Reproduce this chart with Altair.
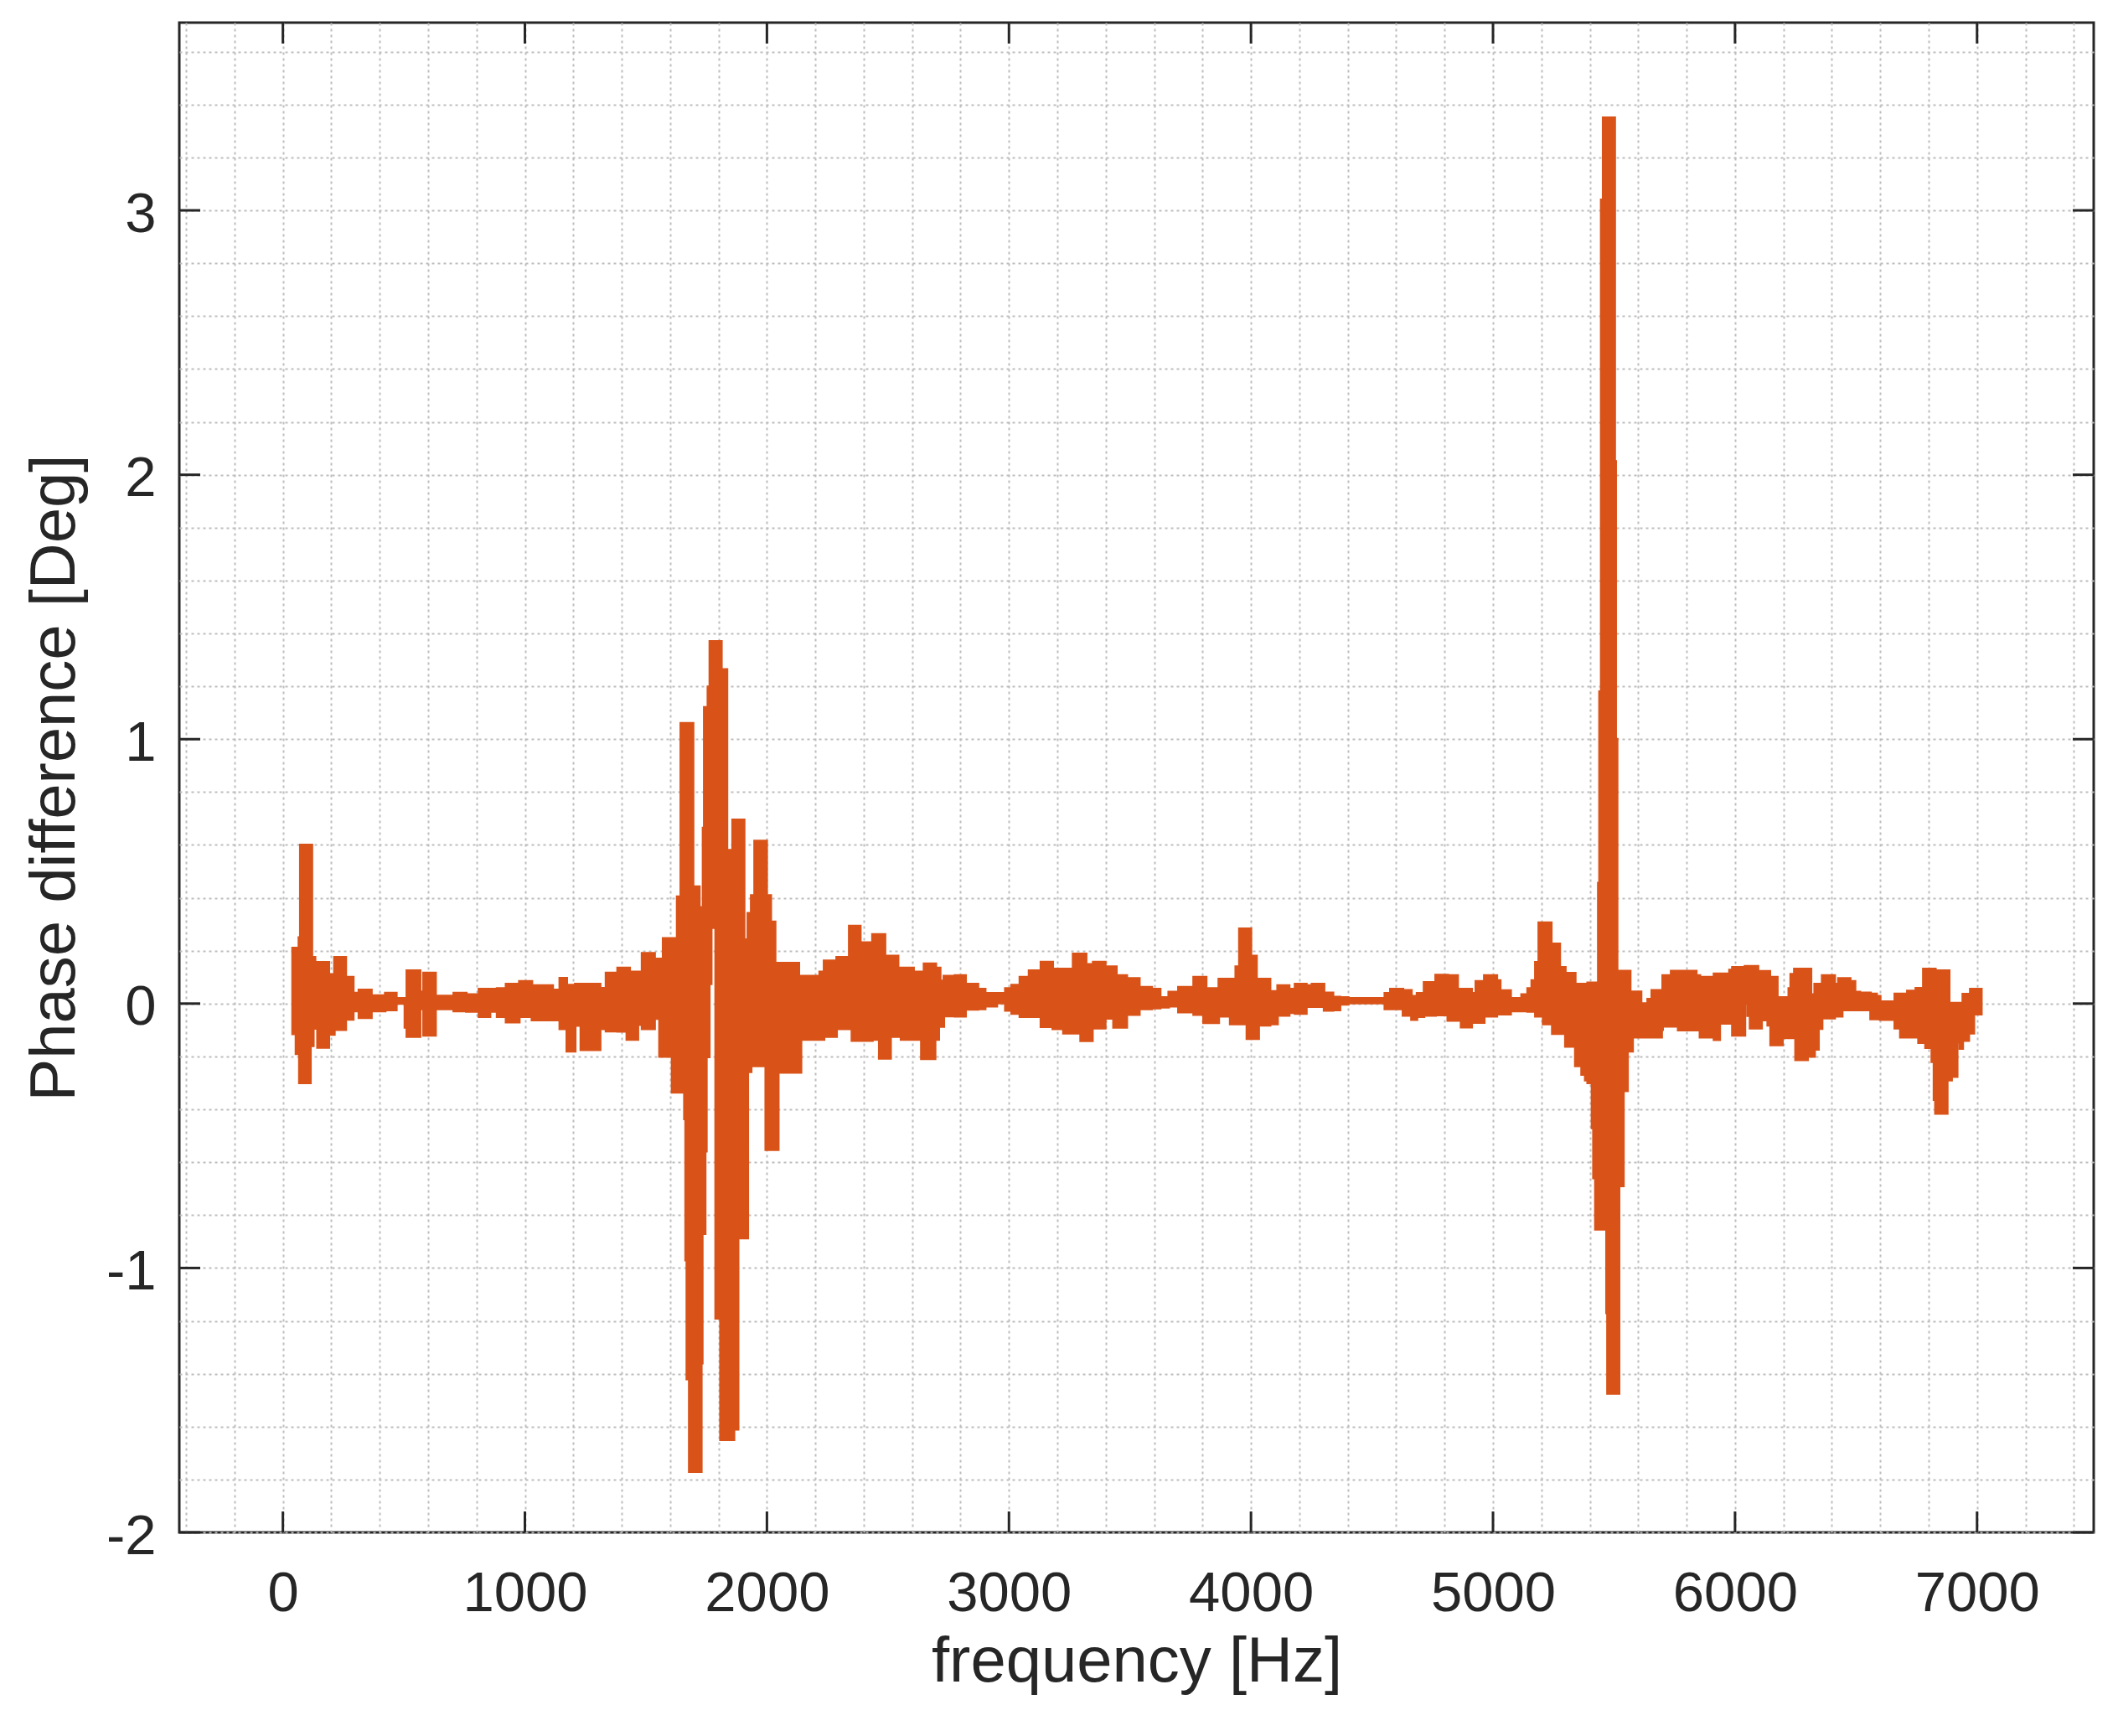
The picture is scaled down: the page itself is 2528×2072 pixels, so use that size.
import altair as alt
import pandas as pd

# ---- data (envelope of the dense phase trace) ----
freq_hz = [
    40, 54, 66, 68, 72, 114, 120, 126, 133, 143, 190, 213, 260, 291, 314, 366, 423, 469, 504, 512,
    567, 581, 631, 706, 758, 810, 856, 885, 922, 977, 1029, 1115, 1144, 1173, 1208, 1231, 1311, 1335, 1383, 1421,
    1433, 1467, 1484, 1536, 1556, 1571, 1608, 1629, 1644, 1659, 1664, 1669, 1679, 1695, 1721, 1729, 1733, 1736, 1741, 1745,
    1750, 1756, 1762, 1764, 1770, 1788, 1808, 1812, 1835, 1858, 1864, 1881, 1906, 1921, 1935, 1949, 1995, 1999, 2016, 2034,
    2047, 2132, 2141, 2218, 2236, 2288, 2340, 2351, 2386, 2436, 2464, 2488, 2511, 2542, 2554, 2606, 2638, 2649, 2695, 2698,
    2710, 2716, 2731, 2777, 2821, 2872, 2902, 2950, 2985, 3011, 3045, 3083, 3132, 3181, 3225, 3265, 3296, 3319, 3345, 3348,
    3398, 3432, 3444, 3487, 3539, 3590, 3625, 3660, 3700, 3763, 3804, 3815, 3867, 3914, 3937, 3952, 3983, 4000, 4023, 4032,
    4079, 4110, 4158, 4182, 4229, 4252, 4302, 4339, 4368, 4402, 4553, 4576, 4628, 4663, 4686, 4715, 4763, 4813, 4854, 4868,
    4912, 4929, 4964, 5016, 5030, 5073, 5118, 5143, 5160, 5175, 5189, 5207, 5241, 5245, 5276, 5299, 5340, 5366, 5381, 5391,
    5409, 5415, 5423, 5435, 5440, 5447, 5455, 5469, 5473, 5503, 5507, 5513, 5521, 5539, 5556, 5567, 5577, 5612, 5639, 5656,
    5697, 5701, 5736, 5765, 5840, 5855, 5908, 5913, 5937, 5977, 5989, 6041, 6052, 6062, 6095, 6110, 6135, 6144, 6147, 6175,
    6196, 6222, 6230, 6245, 6250, 6300, 6314, 6329, 6345, 6360, 6412, 6427, 6443, 6476, 6496, 6516, 6560, 6585, 6600, 6660,
    6683, 6712, 6747, 6758, 6778, 6787, 6813, 6822, 6828, 6877, 6885, 6895, 6918, 6929, 6941, 6966, 6972, 6987, 7018,
]
phase_upper = [
    0.21, 0.21, 0.25, 0.25, 0.60, 0.60, 0.175, 0.175, 0.117, 0.156, 0.11, 0.175, 0.10, 0.04, 0.052, 0.03, 0.04, 0.02, 0.02, 0.125,
    0.045, 0.116, 0.029, 0.04, 0.034, 0.055, 0.055, 0.057, 0.074, 0.084, 0.068, 0.052, 0.096, 0.07, 0.074, 0.074, 0.058, 0.116, 0.135, 0.135,
    0.12, 0.12, 0.19, 0.169, 0.169, 0.247, 0.247, 0.404, 1.06, 1.06, 1.06, 1.06, 1.06, 0.442, 0.364, 0.364, 0.364, 0.664, 1.12, 1.12,
    1.12, 1.198, 1.198, 1.37, 1.37, 1.37, 1.37, 1.264, 0.58, 0.695, 0.695, 0.695, 0.242, 0.342, 0.409, 0.615, 0.615, 0.409, 0.309, 0.153,
    0.153, 0.104, 0.104, 0.12, 0.162, 0.175, 0.293, 0.293, 0.231, 0.262, 0.262, 0.18, 0.18, 0.135, 0.135, 0.12, 0.12, 0.151, 0.151, 0.135,
    0.135, 0.086, 0.104, 0.106, 0.074, 0.055, 0.039, 0.039, 0.057, 0.07, 0.1, 0.125, 0.157, 0.131, 0.131, 0.188, 0.188, 0.148, 0.148, 0.157,
    0.14, 0.14, 0.106, 0.095, 0.062, 0.055, 0.023, 0.044, 0.062, 0.1, 0.1, 0.057, 0.093, 0.093, 0.14, 0.283, 0.283, 0.18, 0.093, 0.093,
    0.046, 0.068, 0.055, 0.074, 0.068, 0.074, 0.041, 0.025, 0.023, 0.02, 0.039, 0.055, 0.05, 0.028, 0.039, 0.08, 0.108, 0.106, 0.055, 0.055,
    0.039, 0.084, 0.106, 0.087, 0.049, 0.02, 0.034, 0.057, 0.087, 0.156, 0.306, 0.306, 0.226, 0.226, 0.137, 0.115, 0.074, 0.074, 0.0, 0.079,
    0.079, 0.079, 0.079, 0.456, 1.18, 3.04, 3.35, 3.35, 3.35, 2.05, 1.0, 0.123, 0.123, 0.123, 0.123, 0.045, 0.045, 0.0, 0.017, 0.05,
    0.05, 0.106, 0.123, 0.123, 0.106, 0.1, 0.079, 0.113, 0.113, 0.127, 0.137, 0.141, 0.141, 0.141, 0.122, 0.122, 0.122, 0.1, 0.1, 0.023,
    0.023, 0.057, 0.111, 0.131, 0.131, 0.131, 0.034, 0.074, 0.074, 0.106, 0.074, 0.095, 0.095, 0.084, 0.044, 0.041, 0.037, 0.028, 0.007, 0.037,
    0.037, 0.048, 0.058, 0.058, 0.131, 0.131, 0.131, 0.131, 0.125, 0.125, 0.002, 0.002, 0.002, 0.002, 0.036, 0.036, 0.055, 0.055, 0.055,
]
phase_lower = [
    -0.115, -0.19, -0.19, -0.30, -0.30, -0.16, -0.16, -0.094, -0.094, -0.166, -0.117, -0.099, -0.06, -0.028, -0.054, -0.028, -0.024, 0.0, -0.09, -0.125,
    -0.02, -0.12, -0.02, -0.028, -0.03, -0.05, -0.03, -0.05, -0.07, -0.05, -0.062, -0.062, -0.096, -0.18, -0.083, -0.175, -0.096, -0.104, -0.105, -0.136,
    -0.136, -0.08, -0.096, -0.057, -0.20, -0.20, -0.336, -0.336, -0.336, -0.436, -0.97, -1.42, -1.77, -1.77, -1.77, -1.36, -0.87, -0.87, -0.87, -0.558,
    -0.202, -0.202, 0.075, 0.075, 0.287, -1.19, -1.65, -1.65, -1.65, -1.65, -1.61, -0.887, -0.887, -0.258, -0.236, -0.236, -0.553, -0.553, -0.553, -0.553,
    -0.26, -0.26, -0.136, -0.136, -0.125, -0.096, -0.096, -0.14, -0.14, -0.136, -0.207, -0.207, -0.125, -0.125, -0.136, -0.136, -0.209, -0.209, -0.136, -0.136,
    -0.087, -0.087, -0.047, -0.048, -0.022, -0.02, -0.01, 0.002, -0.026, -0.038, -0.05, -0.05, -0.088, -0.096, -0.112, -0.112, -0.141, -0.141, -0.093, -0.093,
    -0.056, -0.09, -0.09, -0.042, -0.02, -0.017, -0.014, -0.01, -0.032, -0.042, -0.073, -0.073, -0.048, -0.077, -0.077, -0.077, -0.133, -0.133, -0.133, -0.082,
    -0.077, -0.045, -0.035, -0.038, -0.012, -0.012, -0.026, -0.024, -0.003, 0.002, -0.02, -0.02, -0.045, -0.061, -0.05, -0.045, -0.043, -0.064, -0.064, -0.089,
    -0.072, -0.072, -0.048, -0.04, -0.04, -0.028, -0.028, -0.03, -0.03, -0.048, -0.048, -0.077, -0.077, -0.114, -0.114, -0.162, -0.236, -0.268, -0.29, -0.3,
    -0.47, -0.66, -0.854, -0.854, -0.854, -0.854, -0.854, -1.17, -1.475, -1.475, -1.475, -1.475, -0.69, -0.33, -0.18, -0.18, -0.127, -0.127, -0.127, -0.127,
    -0.099, -0.086, -0.086, -0.1, -0.1, -0.127, -0.127, -0.137, -0.075, -0.075, -0.12, 0.0, -0.046, -0.093, -0.093, -0.062, -0.082, -0.082, -0.157, -0.157,
    -0.13, -0.13, -0.13, -0.13, -0.213, -0.2, -0.2, -0.173, -0.095, -0.055, -0.048, -0.048, -0.024, -0.024, -0.024, -0.024, -0.058, -0.058, -0.061, -0.093,
    -0.127, -0.127, -0.127, -0.148, -0.148, -0.167, -0.22, -0.363, -0.416, -0.29, -0.29, -0.276, -0.146, -0.17, -0.14, -0.112, -0.112, -0.04, -0.04,
]

x_major_ticks = [0, 1000, 2000, 3000, 4000, 5000, 6000, 7000]
y_major_ticks = [-2, -1, 0, 1, 2, 3]
x_grid_values = list(range(-400, 7401, 200))
y_grid_values = [round(-2 + 0.2 * i, 1) for i in range(29)]

X_DOMAIN = [-428, 7482]
Y_DOMAIN = [-2, 3.71]
W, H = 2285, 1802
LINE_COLOR = "#D95319"
INK = "#262626"
FONT = "Liberation Sans"
TICK_LEN = 25

df = pd.DataFrame({"freq": freq_hz, "upper": phase_upper, "lower": phase_lower})
xt = pd.DataFrame({"freq": x_major_ticks})
yt = pd.DataFrame({"upper": y_major_ticks})

xs = alt.Scale(domain=X_DOMAIN, nice=False, zero=False)
ys = alt.Scale(domain=Y_DOMAIN, nice=False, zero=False)

grid_style = dict(grid=True, gridColor="#bdbdbd", gridDash=[3, 4], gridWidth=2,
                  ticks=False, domain=False, labelOverlap=False, labelFlush=False)

x_axis = alt.Axis(
    values=x_grid_values,
    labelExpr="datum.value % 1000 === 0 ? '' + datum.value : ''",
    labelPadding=40,
    title="frequency [Hz]",
    titleX=W / 2, titleY=154, titleBaseline="middle", titleAlign="center",
    **grid_style,
)
y_axis = alt.Axis(
    values=y_grid_values,
    labelExpr="datum.value === round(datum.value) ? '' + datum.value : ''",
    labelPadding=28,
    labelOffset=5,
    title="Phase difference [Deg]",
    titleX=-149, titleY=H / 2, titleAngle=270, titleBaseline="middle", titleAlign="center",
    **grid_style,
)

X_ENC = alt.X("freq:Q", scale=xs, axis=x_axis)
Y_ENC = alt.Y("upper:Q", scale=ys, axis=y_axis)

band = alt.Chart(df).mark_area(
    interpolate="step-after", color=LINE_COLOR, stroke=LINE_COLOR, strokeWidth=3, strokeJoin="miter"
).encode(
    x=X_ENC,
    y=Y_ENC,
    y2="lower:Q",
)

tick_mark = dict(color=INK, strokeWidth=3)
bottom_ticks = alt.Chart(xt).mark_rule(**tick_mark).encode(
    x=X_ENC, y=alt.value(H), y2=alt.value(H - TICK_LEN))
top_ticks = alt.Chart(xt).mark_rule(**tick_mark).encode(
    x=X_ENC, y=alt.value(0), y2=alt.value(TICK_LEN))
left_ticks = alt.Chart(yt).mark_rule(**tick_mark).encode(
    y=Y_ENC, x=alt.value(0), x2=alt.value(TICK_LEN))
right_ticks = alt.Chart(yt).mark_rule(**tick_mark).encode(
    y=Y_ENC, x=alt.value(W), x2=alt.value(W - TICK_LEN))

chart = alt.layer(band, bottom_ticks, top_ticks, left_ticks, right_ticks).properties(
    width=W, height=H,
    autosize=alt.AutoSizeParams(type="none"),
    padding={"left": 206, "top": 19, "right": 21, "bottom": 235},
    background="white",
).configure_view(
    stroke=INK, strokeWidth=3,
).configure_axis(
    labelFont=FONT, titleFont=FONT,
    labelFontSize=67, titleFontSize=76,
    labelColor=INK, titleColor=INK, titleFontWeight="normal",
)

chart.save("out.html", embed_options={"renderer": "svg", "actions": False})
